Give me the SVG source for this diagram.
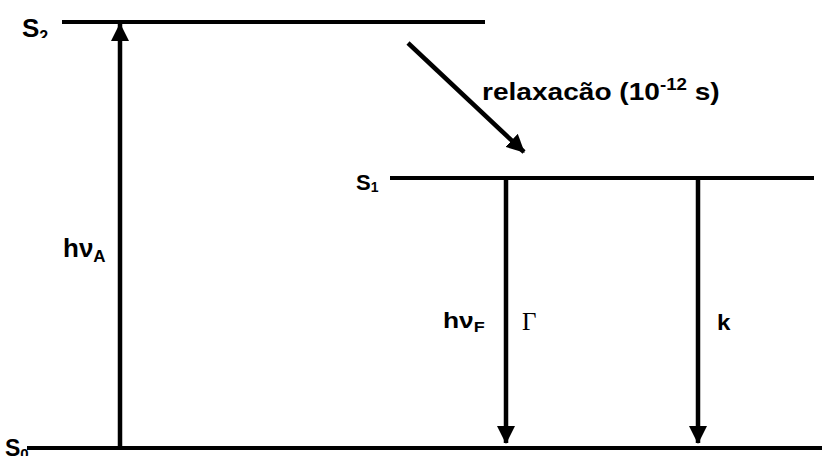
<svg xmlns="http://www.w3.org/2000/svg" width="822" height="456" viewBox="0 0 822 456">
<defs>
<style>
.lvl{stroke:#000;stroke-width:4;fill:none}
.arr{stroke:#000;stroke-width:4.5;fill:none}
.t{font-family:"Liberation Sans",Arial,sans-serif;font-weight:bold;fill:#000}
.g{font-family:"Liberation Serif","Times New Roman",serif;fill:#000}
</style>
<marker id="ah" markerWidth="18" markerHeight="18" viewBox="0 0 18 18" refX="17" refY="9" orient="auto" markerUnits="userSpaceOnUse">
<path d="M0,0 L18,9 L0,18 Z" fill="#000"/>
</marker>
<clipPath id="cS2"><rect x="0" y="0" width="60" height="38"/></clipPath>
</defs>
<g id="S2"><line class="lvl" x1="62" y1="22" x2="485" y2="22"/><text class="t" font-size="26" x="22" y="37" clip-path="url(#cS2)">S<tspan font-size="16" dy="5">2</tspan></text></g>
<g id="S1"><line class="lvl" x1="390" y1="178" x2="814" y2="178"/><text class="t" font-size="22" x="356" y="190">S<tspan font-size="14" dy="2">1</tspan></text></g>
<g id="S0"><line class="lvl" x1="27" y1="448" x2="822" y2="448"/><text class="t" font-size="23" x="5" y="456">S<tspan font-size="15" dy="3">0</tspan></text></g>
<g id="connectors">
<line class="arr" x1="120" y1="448" x2="120" y2="24" marker-end="url(#ah)"/>
<line class="arr" x1="408" y1="43" x2="524" y2="152" marker-end="url(#ah)"/>
<line class="arr" x1="506" y1="178" x2="506" y2="443" marker-end="url(#ah)"/>
<line class="arr" x1="698" y1="178" x2="698" y2="443" marker-end="url(#ah)"/>
</g>
<g id="labels">
<text class="t" font-size="26" x="63" y="257">hν<tspan font-size="17" dy="5">A</tspan></text>
<text class="t" font-size="24" transform="translate(482,100) scale(1.17,1)">relaxacão (10<tspan font-size="16" dy="-10">-12</tspan><tspan dy="10"> s)</tspan></text>
<text class="t" font-size="22" transform="translate(443,328) scale(1.2,1)">hν<tspan font-size="15" dy="4">F</tspan></text>
<text class="g" font-size="25" transform="translate(522,330)">Γ</text>
<text class="t" font-size="22" transform="translate(717,330) scale(1.1,1)">k</text>
</g>
</svg>
